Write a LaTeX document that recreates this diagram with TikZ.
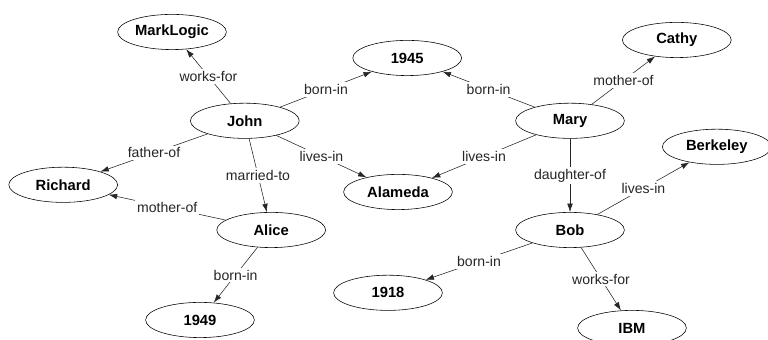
\documentclass[tikz,border=0pt]{standalone}
\usepackage{fontspec}
\setmainfont{Liberation Sans}
\usepackage{tikz}
\usetikzlibrary{arrows.meta,shapes.geometric}

\begin{document}
\begin{tikzpicture}[
  >={Latex[length=2.1mm,width=1.4mm]},
  ent/.style={ellipse,draw,thin,minimum width=2.72cm,minimum height=0.88cm,inner sep=0pt,font=\fontsize{10.5}{12}\selectfont\bfseries},
  rel/.style={->,thin,black!85},
  lab/.style={fill=white,inner sep=1.5pt,font=\fontsize{10}{12}\selectfont}
]
  \clip (0,0) rectangle (19.2,8.5);

  % people
  \node[ent] (john)  at (6.12,5.48)  {John};
  \node[ent] (mary)  at (14.25,5.48) {Mary};
  \node[ent] (alice) at (6.78,2.75)  {Alice};
  \node[ent] (bob)   at (14.25,2.75) {Bob};
  \node[ent] (cathy) at (16.92,7.50) {Cathy};
  \node[ent] (rich)  at (1.58,3.88)  {Richard};

  % places, years, companies
  \node[ent] (mlog)  at (4.30,7.70)  {MarkLogic};
  \node[ent] (y1945) at (10.18,7.05) {1945};
  \node[ent] (alam)  at (9.95,3.70)  {Alameda};
  \node[ent] (berk)  at (17.92,4.83) {Berkeley};
  \node[ent] (y1918) at (9.70,1.18)  {1918};
  \node[ent] (y1949) at (5.00,0.50)  {1949};
  \node[ent] (ibm)   at (15.80,0.30) {IBM};

  \draw[rel] (john) -- node[lab] {works-for} (mlog);
  \draw[rel] (john) -- node[lab] {born-in} (y1945);
  \draw[rel] (john) -- node[lab] {father-of} (rich);
  \draw[rel] (john) -- node[lab] {married-to} (alice);
  \draw[rel] (john) -- node[lab] {lives-in} (alam);

  \draw[rel] (mary) -- node[lab] {born-in} (y1945);
  \draw[rel] (mary) -- node[lab] {mother-of} (cathy);
  \draw[rel] (mary) -- node[lab] {lives-in} (alam);
  \draw[rel] (mary) -- node[lab] {daughter-of} (bob);

  \draw[rel] (alice) -- node[lab] {mother-of} (rich);
  \draw[rel] (alice) -- node[lab] {born-in} (y1949);

  \draw[rel] (bob) -- node[lab] {lives-in} (berk);
  \draw[rel] (bob) -- node[lab] {born-in} (y1918);
  \draw[rel] (bob) -- node[lab] {works-for} (ibm);
\end{tikzpicture}
\end{document}
